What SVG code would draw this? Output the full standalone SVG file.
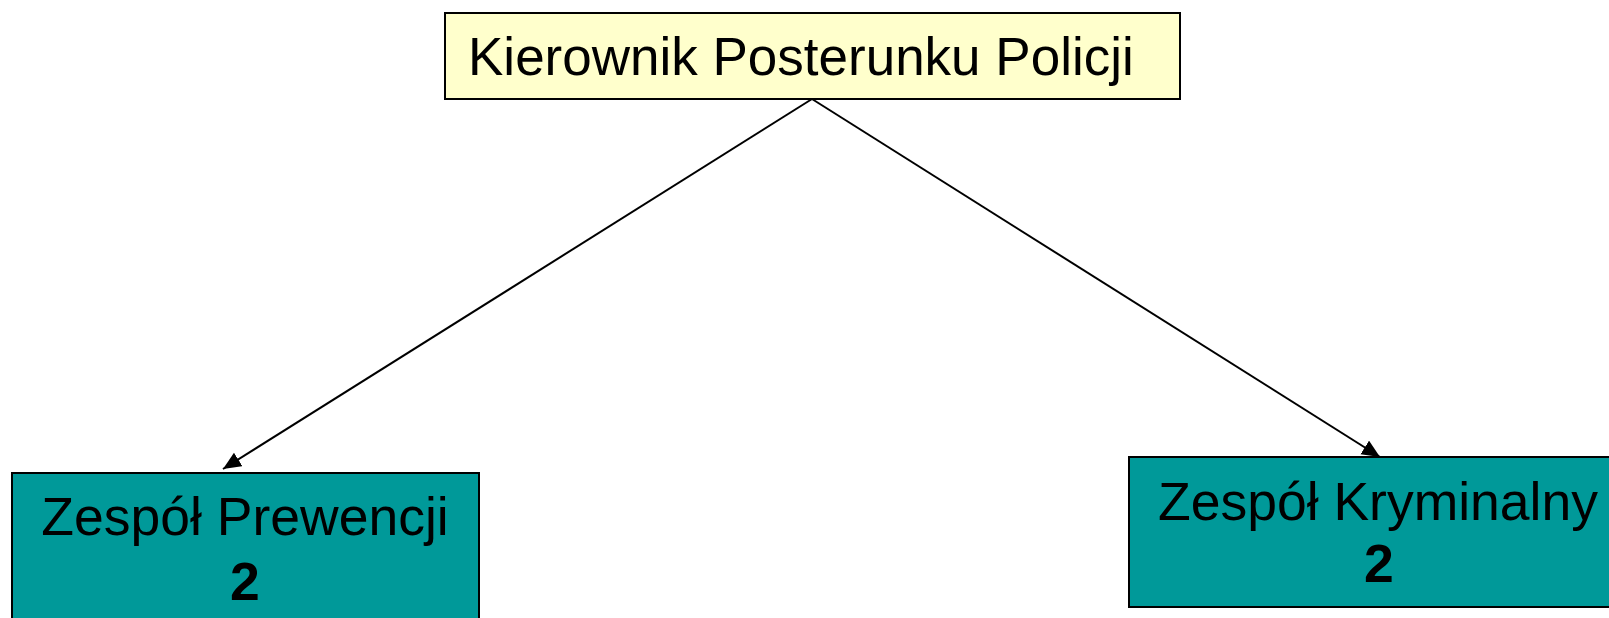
<svg xmlns="http://www.w3.org/2000/svg" width="1609" height="618" viewBox="0 0 1609 618">
  <style>
    .box { stroke: #000000; stroke-width: 2; }
    .head { fill: #FFFFCC; }
    .team { fill: #009999; }
    .lbl { font-family: "Liberation Sans", Arial, sans-serif; font-size: 53.5px; fill: #000000; }
    .top { font-size: 53px; }
    .num { font-weight: bold; }
    .conn { stroke: #000000; stroke-width: 2; fill: none; }
  </style>
  <defs>
    <marker id="arrow" markerUnits="userSpaceOnUse" markerWidth="20" markerHeight="18" refX="18" refY="8" orient="auto">
      <path d="M0,0 L18,8 L0,16 z" fill="#000000"/>
    </marker>
  </defs>
  <rect width="1609" height="618" fill="#FFFFFF"/>
  <g id="connectors">
    <line class="conn" x1="812" y1="99" x2="223" y2="469" marker-end="url(#arrow)"/>
    <line class="conn" x1="812" y1="99" x2="1380" y2="457" marker-end="url(#arrow)"/>
  </g>
  <g id="node-kierownik">
    <rect class="box head" x="445" y="13" width="735" height="86"/>
    <text class="lbl top" x="468" y="75">Kierownik Posterunku Policji</text>
  </g>
  <g id="node-prewencji">
    <rect class="box team" x="12" y="473" width="467" height="160"/>
    <text class="lbl" x="245" y="535" text-anchor="middle">Zespół Prewencji</text>
    <text class="lbl num" x="245" y="600" text-anchor="middle">2</text>
  </g>
  <g id="node-kryminalny">
    <rect class="box team" x="1129" y="457" width="500" height="150"/>
    <text class="lbl" x="1378" y="520" text-anchor="middle">Zespół Kryminalny</text>
    <text class="lbl num" x="1379" y="582" text-anchor="middle">2</text>
  </g>
</svg>
